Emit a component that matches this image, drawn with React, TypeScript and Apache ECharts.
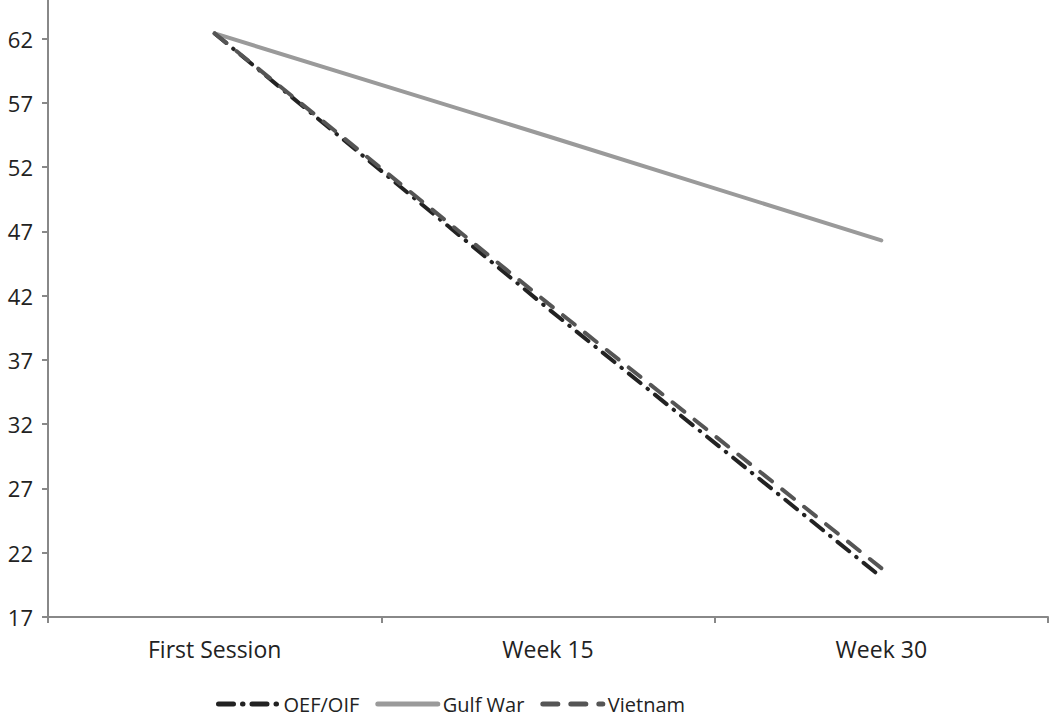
import React, { useEffect, useRef } from "react";
import * as echarts from "echarts";

const categories = ["First Session", "Week 15", "Week 30"];
const oefOif = [62.4, 41.0, 20.1];
const gulfWar = [62.4, 54.4, 46.3];
const vietnam = [62.4, 41.4, 20.8];
const yTicks = [17, 22, 27, 32, 37, 42, 47, 52, 57, 62];

const FONT = "Open Sans";

export default function App() {
  const ref = useRef<HTMLDivElement>(null);
  useEffect(() => {
    if (!ref.current) return;
    const chart = echarts.init(ref.current, undefined, { renderer: "svg" });
    chart.setOption({
      animation: false,
      backgroundColor: "#ffffff",
      grid: { left: 48, right: 2, top: 0, bottom: 104, containLabel: false },
      legend: {
        bottom: 2,
        left: 211,
        itemWidth: 60,
        itemHeight: 14,
        itemGap: 16,
        itemStyle: { opacity: 0 },
        lineStyle: { width: 5 },
        textStyle: { fontFamily: FONT, fontSize: 20, color: "#222" },
        data: ["OEF/OIF", "Gulf War", "Vietnam"],
      },
      xAxis: {
        type: "category",
        data: categories,
        boundaryGap: true,
        axisLine: { lineStyle: { color: "#888", width: 2 } },
        axisTick: { show: true, length: 6, lineStyle: { color: "#888", width: 2 } },
        axisLabel: { fontFamily: FONT, fontSize: 23, color: "#222", margin: 20 },
        splitLine: { show: false },
      },
      yAxis: {
        type: "value",
        min: 17,
        max: 65,
        splitLine: { show: false },
        axisLine: { show: true, lineStyle: { color: "#888", width: 2 } },
        axisTick: { show: true, length: 6, customValues: yTicks, lineStyle: { color: "#888", width: 2 } },
        axisLabel: { fontFamily: FONT, fontSize: 22, color: "#222", margin: 15, customValues: yTicks },
      },
      series: [
        {
          name: "OEF/OIF",
          type: "line",
          data: oefOif,
          symbol: "none",
          color: "#222222",
          lineStyle: { color: "#222222", width: 4, type: [15, 9, 0.5, 9], cap: "round" },
        },
        {
          name: "Gulf War",
          type: "line",
          data: gulfWar,
          symbol: "none",
          color: "#9a9a9a",
          lineStyle: { color: "#9a9a9a", width: 4, cap: "round" },
        },
        {
          name: "Vietnam",
          type: "line",
          data: vietnam,
          symbol: "none",
          color: "#555555",
          lineStyle: { color: "#555555", width: 4, type: [15, 13], cap: "round" },
        },
      ],
    });
    return () => chart.dispose();
  }, []);
  return (
    <div
      ref={ref}
      style={{ position: "fixed", left: 0, top: 0, width: 1050, height: 721 }}
    />
  );
}
